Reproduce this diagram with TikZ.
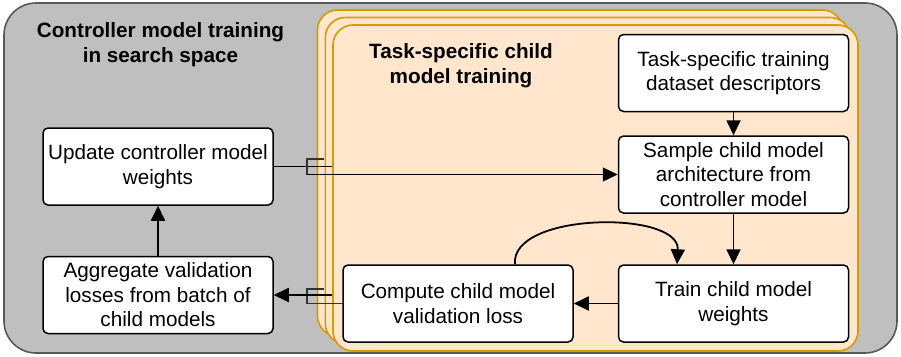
\documentclass[tikz,border=0pt]{standalone}
\usepackage{fontspec}
\setmainfont{Liberation Sans}
\usetikzlibrary{arrows.meta,calc}
\definecolor{outerfill}{HTML}{BFBFBF}
\definecolor{outerdraw}{HTML}{595959}
\definecolor{orfill}{HTML}{FFE6CC}
\definecolor{ordraw}{HTML}{D79B00}
\begin{document}
\begin{tikzpicture}[x=1pt,y=-1pt,
  box/.style={draw=black, line width=1.5pt, fill=white, rounded corners=5pt, minimum width=230pt, minimum height=77pt, align=center, inner sep=0pt, font=\fontsize{20.7}{24.5}\selectfont},
  ttl/.style={align=center, inner sep=0pt, font=\fontsize{20.7}{24.5}\selectfont\bfseries},
  layer/.style={draw=ordraw, fill=orfill, line width=1.6pt, rounded corners=20pt},
  arr/.style={line width=1.8pt, -{Triangle[length=15pt,width=14pt]}},
  ln/.style={line width=1.8pt},
  brk/.style={line width=1.1pt, draw=black!80}
]
\useasboundingbox (0,0) rectangle (901,356);
\draw[draw=outerdraw, fill=outerfill, line width=1.6pt, rounded corners=32pt] (4,3) rectangle (897,353);
\draw[layer] (317.5,10) rectangle (842.5,336);
\draw[layer] (325.3,17.5) rectangle (850.3,343.5);
\draw[layer] (333,25) rectangle (858,351);

\node[ttl] (ctitle) at (160.5,44.7) {Controller model training\\in search space};
\node[ttl] (ttitle) at (461,65.6) {Task-specific child\\model training};

\node[box] (update) at (158,166.5) {Update controller model\\weights};
\node[box] (agg) at (158,295) {Aggregate validation\\losses from batch of\\child models};
\node[box] (task) at (733.5,73) {Task-specific training\\dataset descriptors};
\node[box] (sample) at (733.5,174.5) {Sample child model\\architecture from\\controller model};
\node[box] (train) at (733.5,303.5) {Train child model\\weights};
\node[box] (compute) at (458,303.5) {Compute child model\\validation loss};

\coordinate (u2) at (332,166.5);
\coordinate (j1) at (307,174.5);
\coordinate (c2) at (332,295);
\coordinate (j2) at (307,303.5);

\draw[ln] (update.east) -- (u2);
\draw[brk] (324,159) -- (307,159) -- (j1);
\draw[arr, line width=1.3pt] (j1) -- (sample.west);

\draw[brk] (324,289) -- (307,289) -- (j2) -- (compute.west);
\draw[arr] (c2) -- (agg.east);

\draw[arr] (task) -- (sample);
\draw[arr] (sample) -- (train);
\draw[arr] (train) -- (compute);
\draw[arr] (agg) -- (update);
\draw[arr] ([xshift=57pt]compute.north) .. controls (510,212) and (680,210) .. ([xshift=-56.5pt]train.north);
\end{tikzpicture}
\end{document}
